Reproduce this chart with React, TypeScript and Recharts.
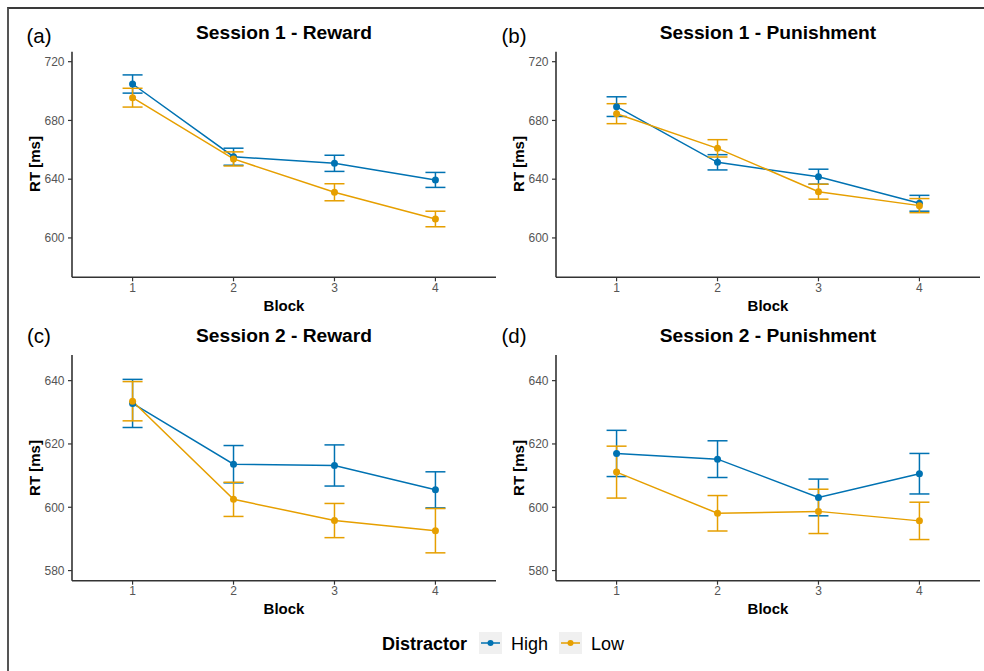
import { LineChart, Line, XAxis, YAxis, ErrorBar } from "recharts";

const blocks = [1, 2, 3, 4];

// Session 1 - Reward
const s1RewardHigh = [704.8, 655.3, 650.8, 639.5];
const s1RewardHighErr = [6.2, 5.8, 5.5, 5.1];
const s1RewardLow = [695.5, 653.8, 631.1, 612.9];
const s1RewardLowErr = [6.4, 4.8, 5.8, 5.3];

// Session 1 - Punishment
const s1PunishHigh = [689.4, 651.5, 641.7, 623.6];
const s1PunishHighErr = [6.7, 5.2, 5.1, 5.4];
const s1PunishLow = [684.6, 661.0, 631.5, 622.0];
const s1PunishLowErr = [6.8, 5.9, 5.1, 4.8];

// Session 2 - Reward
const s2RewardHigh = [632.8, 613.6, 613.2, 605.5];
const s2RewardHighErr = [7.6, 5.9, 6.5, 5.7];
const s2RewardLow = [633.5, 602.5, 595.8, 592.6];
const s2RewardLowErr = [6.2, 5.4, 5.4, 7.0];

// Session 2 - Punishment
const s2PunishHigh = [617.0, 615.2, 603.1, 610.6];
const s2PunishHighErr = [7.3, 5.8, 5.8, 6.4];
const s2PunishLow = [611.1, 598.1, 598.7, 595.7];
const s2PunishLowErr = [8.2, 5.6, 7.0, 5.9];

const session1Ticks = [600, 640, 680, 720];
const session2Ticks = [580, 600, 620, 640];

const BLUE = "#0072B2";
const ORANGE = "#E69F00";
const FONT = "'Liberation Sans', Arial, Helvetica, sans-serif";

const build = (high: number[], highErr: number[], low: number[], lowErr: number[]) =>
  blocks.map((b, i) => ({
    block: b,
    high: high[i],
    highErr: highErr[i],
    low: low[i],
    lowErr: lowErr[i],
  }));

type PanelProps = {
  left: number;
  top: number;
  width: number;
  height: number;
  yAxisWidth: number;
  marginTop: number;
  marginBottom: number;
  domain: [number, number];
  ticks: number[];
  data: ReturnType<typeof build>;
};

const Panel = (p: PanelProps) => (
  <div style={{ position: "absolute", left: p.left, top: p.top }}>
    <LineChart
      width={p.width}
      height={p.height}
      data={p.data}
      margin={{ top: p.marginTop, right: 4, left: 0, bottom: p.marginBottom }}
    >
      <XAxis
        dataKey="block"
        type="number"
        domain={[0.4, 4.6]}
        ticks={blocks}
        allowDataOverflow
        height={30}
        tickSize={4}
        tickMargin={2}
        axisLine={{ stroke: "#333", strokeWidth: 1.6 }}
        tickLine={{ stroke: "#333", strokeWidth: 1.2 }}
        tick={{ fill: "#555", fontSize: 12, fontFamily: FONT }}
      />
      <YAxis
        type="number"
        domain={p.domain}
        ticks={p.ticks}
        allowDataOverflow
        width={p.yAxisWidth}
        tickSize={4}
        tickMargin={3.5}
        axisLine={{ stroke: "#333", strokeWidth: 1.6 }}
        tickLine={{ stroke: "#333", strokeWidth: 1.2 }}
        tick={{ fill: "#555", fontSize: 12, fontFamily: FONT }}
      />
      <Line
        dataKey="high"
        stroke={BLUE}
        strokeWidth={1.5}
        dot={{ r: 3.5, fill: BLUE, stroke: BLUE, strokeWidth: 0 }}
        activeDot={false}
        isAnimationActive={false}
      >
        <ErrorBar dataKey="highErr" direction="y" width={10} stroke={BLUE} strokeWidth={1.5} isAnimationActive={false} />
      </Line>
      <Line
        dataKey="low"
        stroke={ORANGE}
        strokeWidth={1.5}
        dot={{ r: 3.5, fill: ORANGE, stroke: ORANGE, strokeWidth: 0 }}
        activeDot={false}
        isAnimationActive={false}
      >
        <ErrorBar dataKey="lowErr" direction="y" width={10} stroke={ORANGE} strokeWidth={1.5} isAnimationActive={false} />
      </Line>
    </LineChart>
  </div>
);

const Text = ({ x, y, children, size, bold, rotate }: any) => (
  <div
    style={{
      position: "absolute",
      left: x,
      top: y,
      transform: `translate(-50%, -50%)${rotate ? " rotate(-90deg)" : ""}`,
      fontSize: size,
      fontWeight: bold ? "bold" : "normal",
      fontFamily: FONT,
      whiteSpace: "nowrap",
      color: "#000",
      lineHeight: 1,
    }}
  >
    {children}
  </div>
);

const LegendKey = ({ x, color }: { x: number; color: string }) => (
  <svg style={{ position: "absolute", left: x, top: 632 }} width={23} height={22}>
    <rect x={0} y={0} width={23} height={22} fill="#f0f0f0" />
    <line x1={2} y1={11} x2={21} y2={11} stroke={color} strokeWidth={1.5} />
    <circle cx={11.5} cy={11} r={3} fill={color} />
  </svg>
);

export default function App() {
  return (
    <div
      style={{
        position: "absolute",
        left: 0,
        top: 0,
        width: 984,
        height: 671,
        background: "#fff",
        overflow: "hidden",
      }}
    >
      <div
        style={{
          position: "absolute",
          left: 7,
          top: 6.5,
          width: 990,
          height: 700,
          borderTop: "2px solid #3a3a3a",
          borderLeft: "2px solid #555",
        }}
      />

      <Panel
        left={0}
        top={0}
        width={500}
        height={320}
        yAxisWidth={72}
        marginTop={51.7}
        marginBottom={12.7}
        domain={[573.2, 726.8]}
        ticks={session1Ticks}
        data={build(s1RewardHigh, s1RewardHighErr, s1RewardLow, s1RewardLowErr)}
      />
      <Panel
        left={490}
        top={0}
        width={494}
        height={320}
        yAxisWidth={66}
        marginTop={51.7}
        marginBottom={12.7}
        domain={[573.2, 726.8]}
        ticks={session1Ticks}
        data={build(s1PunishHigh, s1PunishHighErr, s1PunishLow, s1PunishLowErr)}
      />
      <Panel
        left={0}
        top={320}
        width={500}
        height={300}
        yAxisWidth={72}
        marginTop={35}
        marginBottom={9.3}
        domain={[576.8, 648.1]}
        ticks={session2Ticks}
        data={build(s2RewardHigh, s2RewardHighErr, s2RewardLow, s2RewardLowErr)}
      />
      <Panel
        left={490}
        top={320}
        width={494}
        height={300}
        yAxisWidth={66}
        marginTop={35}
        marginBottom={9.3}
        domain={[576.8, 648.1]}
        ticks={session2Ticks}
        data={build(s2PunishHigh, s2PunishHighErr, s2PunishLow, s2PunishLowErr)}
      />

      {/* panel letters */}
      <Text x={39} y={36} size={20.5}>(a)</Text>
      <Text x={514} y={36} size={20.5}>(b)</Text>
      <Text x={39} y={336} size={20.5}>(c)</Text>
      <Text x={514} y={336} size={20.5}>(d)</Text>

      {/* titles */}
      <Text x={284} y={33} size={19.2} bold>Session 1 - Reward</Text>
      <Text x={768} y={33} size={19.2} bold>Session 1 - Punishment</Text>
      <Text x={284} y={336} size={19.2} bold>Session 2 - Reward</Text>
      <Text x={768} y={336} size={19.2} bold>Session 2 - Punishment</Text>

      {/* axis titles */}
      <Text x={34} y={164} size={15} bold rotate>RT [ms]</Text>
      <Text x={518} y={164} size={15} bold rotate>RT [ms]</Text>
      <Text x={34} y={468} size={15} bold rotate>RT [ms]</Text>
      <Text x={518} y={468} size={15} bold rotate>RT [ms]</Text>
      <Text x={284} y={305} size={15} bold>Block</Text>
      <Text x={768} y={305} size={15} bold>Block</Text>
      <Text x={284} y={608} size={15} bold>Block</Text>
      <Text x={768} y={608} size={15} bold>Block</Text>

      {/* legend */}
      <Text x={424.5} y={644} size={18} bold>Distractor</Text>
      <LegendKey x={479} color={BLUE} />
      <div style={{ position: "absolute", left: 511, top: 635, fontSize: 18, fontFamily: FONT, lineHeight: 1 }}>High</div>
      <LegendKey x={559} color={ORANGE} />
      <div style={{ position: "absolute", left: 591, top: 635, fontSize: 18, fontFamily: FONT, lineHeight: 1 }}>Low</div>
    </div>
  );
}
